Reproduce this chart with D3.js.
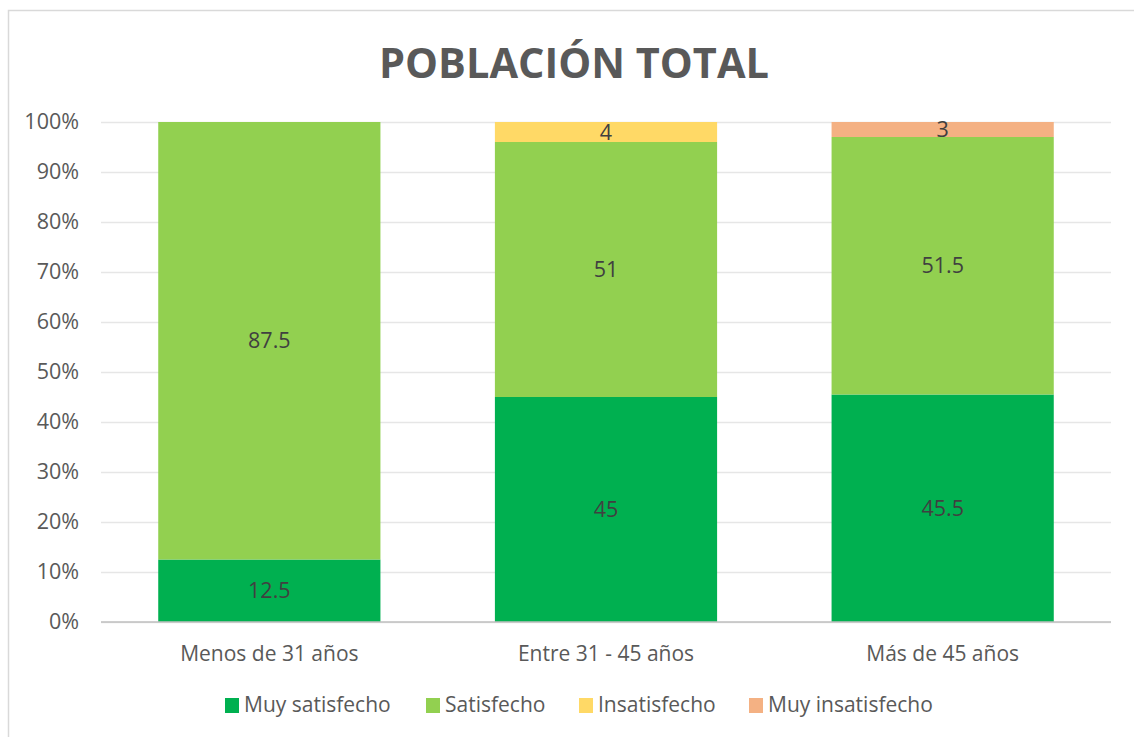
<!DOCTYPE html>
<html><head><meta charset="utf-8">
<script src="https://cdn.jsdelivr.net/npm/d3@7"></script>
<style>body{margin:0;background:#fff;} text{font-family:"Open Sans",Carlito,sans-serif;}</style>
</head><body><svg id="c" width="1134" height="737"></svg>
<script>
const categories = ["Menos de 31 años", "Entre 31 - 45 años", "Más de 45 años"];
const seriesNames = ["Muy satisfecho", "Satisfecho", "Insatisfecho", "Muy insatisfecho"];
const muySatisfecho = [12.5, 45, 45.5];
const satisfecho = [87.5, 51, 51.5];
const insatisfecho = [0, 4, 0];
const muyInsatisfecho = [0, 0, 3];
const colors = ["#00b050", "#92d050", "#ffd966", "#f4b183"];
const yTicks = [0, 10, 20, 30, 40, 50, 60, 70, 80, 90, 100];

const svg = d3.select("#c");
const W = 1134, H = 737;
svg.append("rect").attr("x", 8.5).attr("y", 10.5).attr("width", W).attr("height", H).attr("fill", "#fff").attr("stroke", "#d9d9d9").attr("stroke-width", 1.5);

const m = {l: 101, r: 1111, t: 122, b: 622};
const rows = categories.map((c, i) => ({cat: c, "Muy satisfecho": muySatisfecho[i], "Satisfecho": satisfecho[i], "Insatisfecho": insatisfecho[i], "Muy insatisfecho": muyInsatisfecho[i]}));
const x = d3.scaleBand().domain(categories).range([m.l, m.r]).paddingInner(0.34).paddingOuter(0.17);
const y = d3.scaleLinear().domain([0, 100]).range([m.b, m.t]);

svg.append("text").attr("x", 574).attr("y", 78).attr("text-anchor", "middle")
  .attr("font-size", 41.5).attr("font-weight", "bold").attr("fill", "#595959").text("POBLACIÓN TOTAL");

const gy = svg.append("g").attr("transform", `translate(${m.l},0)`)
  .call(d3.axisLeft(y).tickValues(yTicks).tickSize(-(m.r - m.l)).tickFormat(d => d + "%"));
gy.select(".domain").remove();
gy.selectAll(".tick line").attr("stroke", "#e6e6e6").attr("stroke-width", 1.3);
gy.selectAll(".tick text").attr("x", -22).attr("font-size", 21.5).attr("fill", "#595959");

const stack = d3.stack().keys(seriesNames)(rows);
svg.append("g").selectAll("g").data(stack).join("g").attr("fill", (d, i) => colors[i])
  .selectAll("rect").data(d => d.filter(p => p[1] - p[0] > 0)).join("rect")
  .attr("x", d => x(d.data.cat)).attr("width", x.bandwidth())
  .attr("y", d => y(d[1])).attr("height", d => y(d[0]) - y(d[1]));

svg.append("line").attr("x1", m.l).attr("x2", m.r).attr("y1", y(0)).attr("y2", y(0)).attr("stroke", "#bfbfbf").attr("stroke-width", 1.3);

svg.append("g").selectAll("g").data(stack).join("g")
  .selectAll("text").data(d => d.filter(p => p[1] - p[0] > 0)).join("text")
  .attr("x", d => x(d.data.cat) + x.bandwidth() / 2)
  .attr("y", d => (y(d[0]) + y(d[1])) / 2).attr("dy", "0.35em")
  .attr("text-anchor", "middle").attr("font-size", 21.5).attr("fill", "#404040")
  .text(d => d[1] - d[0]);

const gx = svg.append("g").attr("transform", `translate(0,${m.b})`).call(d3.axisBottom(x).tickSize(0));
gx.select(".domain").remove();
gx.selectAll(".tick text").attr("dy", 0).attr("y", 39).attr("font-size", 21).attr("fill", "#595959");

const legX = [225, 426, 579, 749];
const lg = svg.append("g").selectAll("g").data(seriesNames).join("g")
  .attr("transform", (d, i) => `translate(${legX[i]},705)`);
lg.append("rect").attr("x", 0).attr("y", -7).attr("width", 14).attr("height", 15).attr("fill", (d, i) => colors[i]);
lg.append("text").attr("x", 19).attr("dy", "0.35em").attr("font-size", 21).attr("fill", "#595959").text(d => d);
</script></body></html>
